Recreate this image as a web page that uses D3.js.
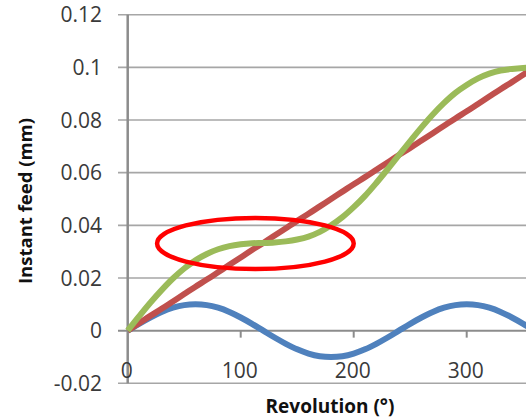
<!DOCTYPE html>
<html>
<head>
<meta charset="utf-8">
<script src="https://cdn.jsdelivr.net/npm/d3@7"></script>
<style>
  body { margin: 0; background: #fff; }
  svg { display: block; }
  text { font-family: "Open Sans", sans-serif; fill: #3a3a3a; }
</style>
</head>
<body>
<script>
// revolution angle, degrees
var revolution = [0, 10, 20, 30, 40, 50, 60, 70, 80, 90, 100, 110, 120, 130, 140, 150, 160, 170, 180,
  190, 200, 210, 220, 230, 240, 250, 260, 270, 280, 290, 300, 310, 320, 330, 340, 350, 360];

// linear feed (red)
var feedLinear = [0, 0.0028, 0.0056, 0.0083, 0.0111, 0.0139, 0.0167, 0.0194, 0.0222, 0.025, 0.0278,
  0.0306, 0.0333, 0.0361, 0.0389, 0.0417, 0.0444, 0.0472, 0.05, 0.0528, 0.0556, 0.0583, 0.0611,
  0.0639, 0.0667, 0.0694, 0.0722, 0.075, 0.0778, 0.0806, 0.0833, 0.0861, 0.0889, 0.0917, 0.0944,
  0.0972, 0.1];

// oscillation (blue)
var feedOsc = [0, 0.0026, 0.005, 0.0071, 0.0087, 0.0097, 0.01, 0.0097, 0.0087, 0.0071, 0.005, 0.0026,
  0, -0.0026, -0.005, -0.0071, -0.0087, -0.0097, -0.01, -0.0097, -0.0087, -0.0071, -0.005, -0.0026,
  0, 0.0026, 0.005, 0.0071, 0.0087, 0.0097, 0.01, 0.0097, 0.0087, 0.0071, 0.005, 0.0026, 0];

// resulting feed (green)
var feedTotal = [0, 0.0054, 0.0106, 0.0154, 0.0198, 0.0236, 0.0267, 0.0291, 0.0309, 0.0321, 0.0328,
  0.0332, 0.0333, 0.0335, 0.0339, 0.0346, 0.0357, 0.0375, 0.04, 0.0431, 0.0469, 0.0512, 0.0561,
  0.0613, 0.0667, 0.072, 0.0772, 0.0821, 0.0865, 0.0903, 0.0933, 0.0958, 0.0976, 0.0988, 0.0994,
  0.0998, 0.1];

var yTicks = [-0.02, 0, 0.02, 0.04, 0.06, 0.08, 0.1, 0.12];
var yLabels = ['-0.02', '0', '0.02', '0.04', '0.06', '0.08', '0.1', '0.12'];
var xTicks = [0, 100, 200, 300];

// highlighted zone (revolution range, feed range)
var zoneX = [26, 200];
var zoneY = [0.0234, 0.0428];

var width = 526, height = 420;

var svg = d3.select('body').append('svg')
  .attr('width', width)
  .attr('height', height);

var x = d3.scaleLinear().domain([0, 360]).range([127.7, 534.5]);
var y = d3.scaleLinear().domain([-0.02, 0.12]).range([383.3, 14.7]);

// gridlines
svg.append('g').selectAll('line').data(yTicks).enter().append('line')
  .attr('x1', 118).attr('x2', width)
  .attr('y1', function(d) { return y(d); })
  .attr('y2', function(d) { return y(d); })
  .attr('stroke', function(d) { return d === 0 ? '#8c8c8c' : '#a6a6a6'; })
  .attr('stroke-width', function(d) { return d === 0 ? 2 : 1.6; });

// tick marks on the zero axis
svg.append('g').selectAll('line').data(xTicks.slice(1)).enter().append('line')
  .attr('x1', function(d) { return x(d); })
  .attr('x2', function(d) { return x(d); })
  .attr('y1', y(0)).attr('y2', y(0) + 7)
  .attr('stroke', '#8c8c8c').attr('stroke-width', 2);

// vertical axis
svg.append('line')
  .attr('x1', x(0)).attr('x2', x(0))
  .attr('y1', y(0.12)).attr('y2', y(-0.02))
  .attr('stroke', '#8c8c8c').attr('stroke-width', 2.5);

// y labels
svg.append('g').selectAll('text').data(yTicks).enter().append('text')
  .attr('x', 102)
  .attr('y', function(d) { return y(d); })
  .attr('dy', '0.36em')
  .attr('text-anchor', 'end')
  .style('font-size', '21px')
  .text(function(d, i) { return yLabels[i]; });

// x labels
svg.append('g').selectAll('text').data(xTicks).enter().append('text')
  .attr('x', function(d) { return x(d) - 1; })
  .attr('y', 378)
  .attr('text-anchor', 'middle')
  .style('font-size', '21px')
  .text(function(d) { return d; });

// axis titles
svg.append('text')
  .attr('transform', 'translate(32,201) rotate(-90)')
  .attr('text-anchor', 'middle')
  .style('font-size', '18.5px').style('font-weight', 'bold').style('fill', '#111')
  .text('Instant feed (mm)');

svg.append('text')
  .attr('x', 330).attr('y', 413)
  .attr('text-anchor', 'middle')
  .style('font-size', '19px').style('font-weight', 'bold').style('fill', '#111')
  .text('Revolution (°)');

// series
var series = [
  { values: feedOsc, color: '#4f81bd' },
  { values: feedLinear, color: '#c0504d' },
  { values: feedTotal, color: '#9bbb59' }
];

var line = d3.line()
  .x(function(d, i) { return x(revolution[i]); })
  .y(function(d) { return y(d); })
  .curve(d3.curveCatmullRom);

svg.append('g').selectAll('path').data(series).enter().append('path')
  .attr('d', function(s) { return line(s.values); })
  .attr('fill', 'none')
  .attr('stroke', function(s) { return s.color; })
  .attr('stroke-width', 6)
  .attr('stroke-linejoin', 'round');

// annotation ellipse
svg.append('ellipse')
  .attr('cx', (x(zoneX[0]) + x(zoneX[1])) / 2)
  .attr('cy', (y(zoneY[0]) + y(zoneY[1])) / 2)
  .attr('rx', (x(zoneX[1]) - x(zoneX[0])) / 2)
  .attr('ry', (y(zoneY[0]) - y(zoneY[1])) / 2)
  .attr('fill', 'none')
  .attr('stroke', '#ff0000')
  .attr('stroke-width', 4.5);
</script>
</body>
</html>
